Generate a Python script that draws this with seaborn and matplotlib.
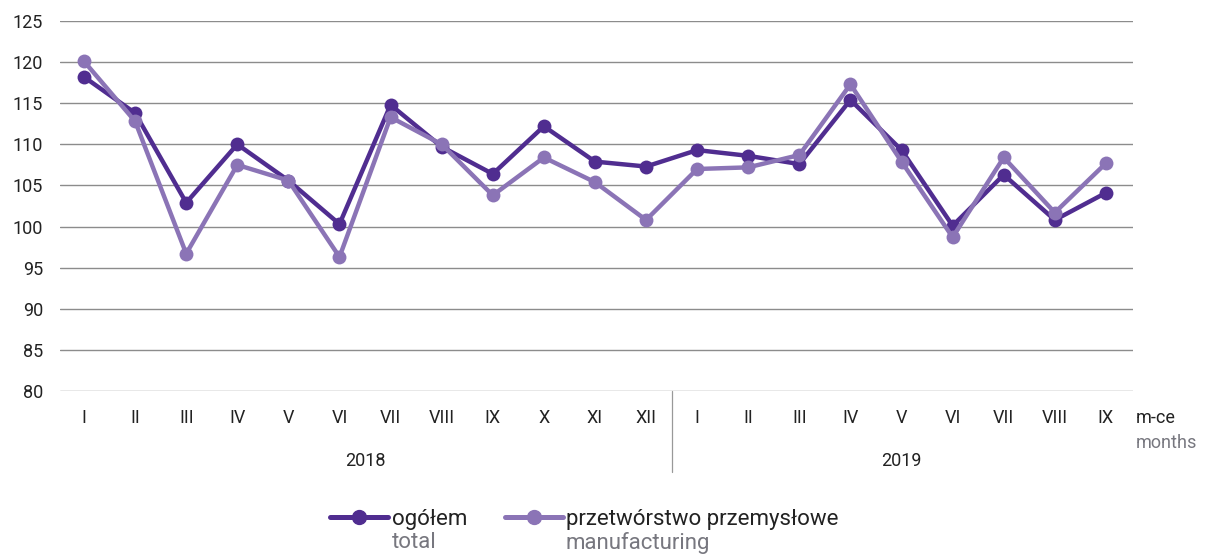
import pandas as pd
import matplotlib.pyplot as plt
import matplotlib.transforms as mtransforms
import seaborn as sns

# ── dane ──────────────────────────────────────────
miesiace = ['I', 'II', 'III', 'IV', 'V', 'VI', 'VII', 'VIII', 'IX', 'X', 'XI', 'XII',
            'I', 'II', 'III', 'IV', 'V', 'VI', 'VII', 'VIII', 'IX']
lata = ['2018', '2019']

ogolem = [118.2, 113.8, 102.9, 110.0, 105.6, 100.3, 114.8, 109.7, 106.4, 112.2, 107.9, 107.3,
          109.3, 108.6, 107.6, 115.4, 109.3, 100.1, 106.3, 100.8, 104.1]
przetworstwo = [120.1, 112.8, 96.7, 107.5, 105.6, 96.3, 113.3, 110.0, 103.8, 108.4, 105.4, 100.8,
                107.0, 107.2, 108.7, 117.3, 107.9, 98.7, 108.4, 101.7, 107.7]

df = pd.DataFrame({
    'idx': list(range(len(miesiace))) * 2,
    'val': ogolem + przetworstwo,
    'seria': ['ogółem'] * len(ogolem) + ['przetwórstwo przemysłowe'] * len(przetworstwo),
})

dark = '#502D90'
light = '#8B74B6'
gray_txt = '#77777f'

sns.set_style('white')
plt.rcParams['font.family'] = ['Roboto', 'DejaVu Sans']

fig = plt.figure(figsize=(12.1, 5.56), dpi=100)
ax = fig.add_axes([60 / 1210, 1 - 391 / 556, (1133 - 60) / 1210, (391 - 21) / 556])

sns.lineplot(data=df, x='idx', y='val', hue='seria',
             palette=[dark, light], marker='o', markersize=10,
             markeredgewidth=0, linewidth=3.2, ax=ax, legend=False)

ax.set_ylim(80, 125)
ax.set_xlim(-0.47, 20.53)
ax.set_yticks(range(80, 126, 5))
ax.set_xticks(range(len(miesiace)))
ax.set_xticklabels(miesiace)
ax.tick_params(axis='both', length=0, labelsize=13, colors='#222222')
ax.tick_params(axis='x', pad=13)
ax.tick_params(axis='y', pad=12)
ax.yaxis.grid(True, color='#8c8c8c', linewidth=1)
ax.set_axisbelow(True)
for s in ax.spines.values():
    s.set_visible(False)
ax.set_xlabel('')
ax.set_ylabel('')

# separator lat i podpisy
tr = mtransforms.blended_transform_factory(ax.transData, ax.transAxes)
ax.plot([11.5, 11.5], [0, -0.22], color='#999999', linewidth=0.9,
        transform=tr, clip_on=False)
ax.text(5.5, -0.19, lata[0], transform=tr, ha='center', va='center',
        fontsize=13, color='#222222')
ax.text(16, -0.19, lata[1], transform=tr, ha='center', va='center',
        fontsize=13, color='#222222')
ax.text(1.003, -0.073, 'm-ce', transform=ax.transAxes, ha='left', va='center',
        fontsize=13, color='#222222')
ax.text(1.003, -0.14, 'months', transform=ax.transAxes, ha='left', va='center',
        fontsize=13, color=gray_txt)

# legenda
h1, = ax.plot([], [], color=dark, marker='o', markersize=10, linewidth=3.6)
h2, = ax.plot([], [], color=light, marker='o', markersize=10, linewidth=3.6)
leg = fig.legend([h1, h2], ['ogółem', 'przetwórstwo przemysłowe'], ncol=2,
                 loc='center', bbox_to_anchor=(0.483, 0.066), frameon=False,
                 fontsize=16, handlelength=2.6, handletextpad=0.15,
                 columnspacing=1.7, borderpad=0)
for t in leg.get_texts():
    t.set_color('#222222')

# podpisy angielskie pod legendą (pozycje z narysowanej legendy)
fig.canvas.draw()
inv = fig.transFigure.inverted()
for t, sub in zip(leg.get_texts(), ['total', 'manufacturing']):
    bb = t.get_window_extent()
    x0, y0 = inv.transform((bb.x0, bb.y0))
    fig.text(x0, y0 - 0.004, sub, ha='left', va='top',
             fontsize=16, color=gray_txt)

plt.savefig('out.png', dpi=100)
